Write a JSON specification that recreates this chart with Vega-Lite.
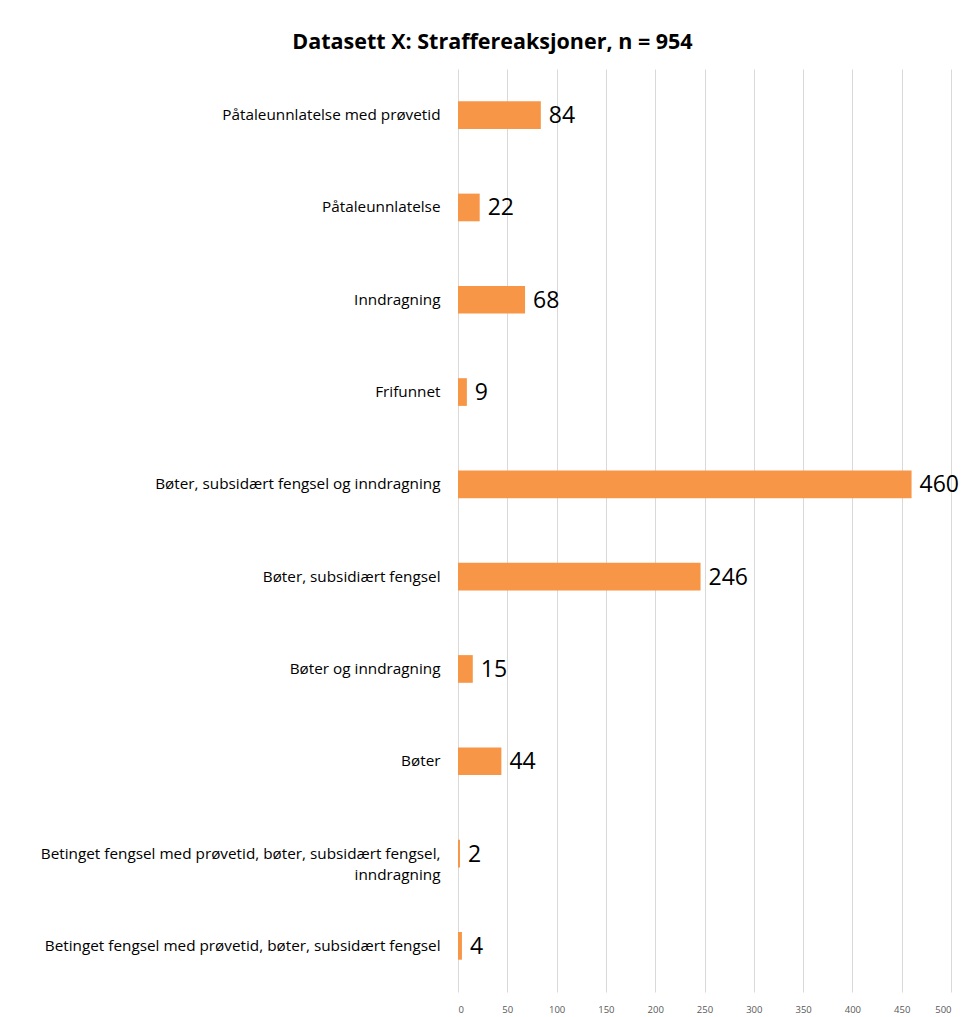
{
  "$schema": "https://vega.github.io/schema/vega-lite/v6.json",
  "autosize": "none",
  "width": 493,
  "height": 923,
  "padding": {"left": 458, "top": 69, "right": 20, "bottom": 25},
  "background": "white",
  "title": {
    "text": "Datasett X: Straffereaksjoner, n = 954",
    "font": "Open Sans",
    "fontSize": 21.5,
    "fontWeight": "bold",
    "color": "#000000",
    "anchor": "middle",
    "frame": "group",
    "dx": -212,
    "offset": 16
  },
  "data": {
    "values": [
      {"reaksjon": "Påtaleunnlatelse med prøvetid", "antall": 84},
      {"reaksjon": "Påtaleunnlatelse", "antall": 22},
      {"reaksjon": "Inndragning", "antall": 68},
      {"reaksjon": "Frifunnet", "antall": 9},
      {"reaksjon": "Bøter, subsidært fengsel og inndragning", "antall": 460},
      {"reaksjon": "Bøter, subsidiært fengsel", "antall": 246},
      {"reaksjon": "Bøter og inndragning", "antall": 15},
      {"reaksjon": "Bøter", "antall": 44},
      {"reaksjon": "Betinget fengsel med prøvetid, bøter, subsidært fengsel,|inndragning", "antall": 2},
      {"reaksjon": "Betinget fengsel med prøvetid, bøter, subsidært fengsel", "antall": 4}
    ]
  },
  "encoding": {
    "y": {
      "field": "reaksjon",
      "type": "nominal",
      "sort": null,
      "title": null,
      "scale": {"paddingInner": 0.7, "paddingOuter": 0.35},
      "axis": {
        "domain": false,
        "ticks": false,
        "labelFont": "Open Sans",
        "labelFontSize": 15.3,
        "labelColor": "#000000",
        "labelPadding": 18,
        "labelLimit": 500,
        "labelExpr": "split(datum.label, '|')",
        "labelLineHeight": 21
      }
    },
    "x": {
      "field": "antall",
      "type": "quantitative",
      "title": null,
      "scale": {"domain": [0, 500], "nice": false},
      "axis": {
        "values": [0, 50, 100, 150, 200, 250, 300, 350, 400, 450, 500],
        "domain": false,
        "ticks": false,
        "grid": true,
        "gridColor": "#d9d9d9",
        "gridWidth": 1,
        "labelFont": "Open Sans",
        "labelFontSize": 9.5,
        "labelColor": "#595959",
        "labelPadding": 12
      }
    }
  },
  "layer": [
    {"mark": {"type": "bar", "color": "#F79646"}},
    {
      "mark": {"type": "text", "align": "left", "baseline": "middle", "dx": 8, "dy": 1, "font": "Open Sans", "fontSize": 23, "color": "#000000"},
      "encoding": {"text": {"field": "antall", "type": "quantitative"}}
    }
  ],
  "config": {"view": {"stroke": null}}
}
